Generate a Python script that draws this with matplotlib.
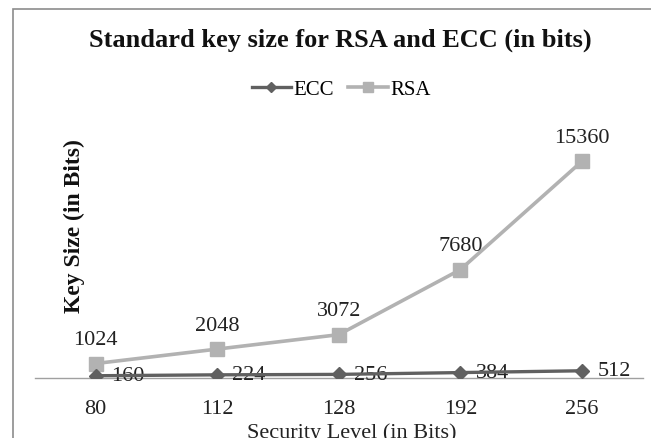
import matplotlib
matplotlib.use("Agg")
import matplotlib.pyplot as plt
from matplotlib.patches import Rectangle

categories = ["80", "112", "128", "192", "256"]
ecc = [160, 224, 256, 384, 512]
rsa = [1024, 2048, 3072, 7680, 15360]

plt.rcParams['font.family'] = ['Liberation Serif', 'DejaVu Serif']

W, H = 651, 439
fig = plt.figure(figsize=(W/100, H/100), dpi=100)
left, right, bottom, top = 34.7, 642.8, 379, 125
ax = fig.add_axes([left/W, 1-bottom/H, (right-left)/W, (bottom-top)/H])

x = list(range(len(categories)))
ax.plot(x, ecc, color='#606060', lw=2.4, marker='D', ms=7, label='ECC', zorder=4)
ax.plot(x, rsa, color='#b2b2b2', lw=2.6, marker='s', ms=9.5, label='RSA', zorder=3)

for xi, v in zip(x, ecc):
    ax.annotate(str(v), (xi, v), xytext=(11, 0), textcoords='offset points',
                ha='left', va='center', fontsize=16, color='#222222')
for xi, v in zip(x, rsa):
    ax.annotate(str(v), (xi, v), xytext=(0, 14), textcoords='offset points',
                ha='center', va='baseline', fontsize=16, color='#222222')

ax.set_xlim(-0.5, 4.5)
ax.set_ylim(0, 18000)
ax.set_yticks([])
ax.set_xticks(x)
ax.set_xticklabels(categories, fontsize=16, color='#222222')
ax.tick_params(axis='x', length=0, pad=15)
for s in ['top', 'right', 'left']:
    ax.spines[s].set_visible(False)
ax.spines['bottom'].set_color('#a0a0a0')
ax.spines['bottom'].set_linewidth(1.0)
ax.patch.set_alpha(0)

fig.text(352/W, 1-433/H, "Security Level (in Bits)", ha='center', va='center',
         fontsize=16, color='#222222')
fig.text(74/W, 1-226/H, "Key Size (in Bits)", ha='center', va='center',
         rotation=90, fontsize=17, fontweight='bold', color='#111111')
fig.text(340/W, 1-40/H, "Standard key size for RSA and ECC (in bits)", ha='center',
         va='center', fontsize=19, fontweight='bold', color='#111111')

leg = fig.legend(loc='center', bbox_to_anchor=(341/W, 1-90.5/H), ncol=2, frameon=False,
                 fontsize=15, handlelength=1.9, handletextpad=0.1, columnspacing=0.7,
                 markerscale=0.8, borderpad=0)

fig.patches.append(Rectangle((12.5/W, -0.1), 1.2, 1-10/H+0.1, transform=fig.transFigure,
                             fill=False, edgecolor='#8c8c8c', lw=1.2))

fig.savefig("out.png", dpi=100)
